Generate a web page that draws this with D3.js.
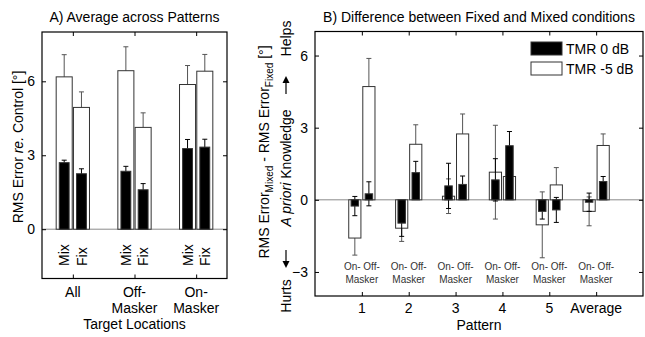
<!DOCTYPE html>
<html>
<head>
<meta charset="utf-8">
<script src="https://cdn.jsdelivr.net/npm/d3@7"></script>
<style>
body { margin: 0; background: #fff; }
text { font-family: "Liberation Sans", Arial, Helvetica, sans-serif; }
</style>
</head>
<body>
<svg id="chart" width="645" height="337"></svg>
<script>
// panel A: average across patterns
const groupsA = [["All"], ["Off-", "Masker"], ["On-", "Masker"]];
const condsA = ["Mix", "Fix"];
const white5A = [[6.18, 4.94], [6.43, 4.13], [5.87, 6.41]];
const white5AErr = [[0.9, 0.63], [0.97, 0.59], [0.77, 0.68]];
const black0A = [[2.7, 2.25], [2.35, 1.6], [3.27, 3.33]];
const black0AErr = [[0.1, 0.2], [0.2, 0.25], [0.37, 0.32]];
const ticksA = [0, 3, 6];

// panel B: difference Fixed vs Mixed
const patterns = ["1", "2", "3", "4", "5", "Average"];
const subLabels = ["On- Off-", "Masker"];
const white5B = [[-1.59, 4.71], [-1.18, 2.31], [0.15, 2.74], [1.15, 0.97], [-1.04, 0.62], [-0.48, 2.26]];
const white5BErr = [[0.71, 1.17], [0.55, 0.81], [0.72, 0.83], [1.95, 0.5], [1.37, 0.72], [0.6, 0.48]];
const black0B = [[-0.26, 0.25], [-0.97, 1.13], [0.58, 0.64], [0.83, 2.25], [-0.48, -0.42], [-0.1, 0.76]];
const black0BErr = [[0.4, 0.5], [0.55, 0.47], [0.94, 0.35], [0.88, 0.59], [0.32, 0.52], [0.38, 0.21]];
const ticksB = [-3, 0, 3, 6];
const legendLabels = ["TMR 0 dB", "TMR -5 dB"];

const svg = d3.select("#chart");
const fontFam = "Liberation Sans, Arial, Helvetica, sans-serif";

function flat(vals, errs, offs) {
  const out = [];
  vals.forEach((row, i) => row.forEach((v, j) => {
    out.push({ pos: i + 1 + offs[j], v: v, e: errs[i][j] });
  }));
  return out;
}

function drawPanel(g, x, y, whiteData, blackData, wW, bW, errColor) {
  const x0 = x.range()[0], x1 = x.range()[1];
  const y0 = y.range()[1], y1 = y.range()[0];

  g.append("line")
    .attr("x1", x0).attr("x2", x1)
    .attr("y1", y(0)).attr("y2", y(0))
    .attr("stroke", "#8a8a8a").attr("stroke-width", 1);

  const layer = (data, w, fill, ecol) => {
    const eg = g.append("g").attr("stroke", ecol).attr("stroke-width", 1);
    eg.selectAll("line.v").data(data).enter().append("line")
      .attr("x1", d => x(d.pos)).attr("x2", d => x(d.pos))
      .attr("y1", d => y(d.v - d.e)).attr("y2", d => y(d.v + d.e));
    [-1, 1].forEach(s => {
      eg.selectAll("line.c" + (s + 1)).data(data).enter().append("line")
        .attr("x1", d => x(d.pos) - 2.5).attr("x2", d => x(d.pos) + 2.5)
        .attr("y1", d => y(d.v + s * d.e)).attr("y2", d => y(d.v + s * d.e));
    });
    g.selectAll(null).data(data).enter().append("rect")
      .attr("x", d => x(d.pos) - w / 2)
      .attr("width", w)
      .attr("y", d => y(Math.max(0, d.v)))
      .attr("height", d => Math.abs(y(d.v) - y(0)))
      .attr("fill", fill)
      .attr("stroke", "#333").attr("stroke-width", 1);
  };
  layer(whiteData, wW, "#fff", errColor);
  layer(blackData, bW, "#000", "#000");

  g.append("rect")
    .attr("x", x0).attr("y", y0)
    .attr("width", x1 - x0).attr("height", y1 - y0)
    .attr("fill", "none").attr("stroke", "#000").attr("stroke-width", 1.2);
}

function inwardAxes(g, x, y, xTicks, yTicks) {
  const x0 = x.range()[0], x1 = x.range()[1];
  const y0 = y.range()[1], y1 = y.range()[0];
  g.append("g").attr("transform", `translate(${x0},0)`)
    .call(d3.axisLeft(y).tickValues(yTicks).tickSizeInner(-4).tickSizeOuter(0).tickPadding(7))
    .attr("font-size", 14).attr("font-family", fontFam)
    .call(a => a.select(".domain").remove())
    .call(a => a.selectAll("text").attr("fill", "#000"));
  g.append("g").attr("transform", `translate(${x1},0)`)
    .call(d3.axisRight(y).tickValues(yTicks).tickSizeInner(-4).tickSizeOuter(0).tickFormat(""))
    .call(a => a.select(".domain").remove());
  g.append("g").attr("transform", `translate(0,${y1})`)
    .call(d3.axisBottom(x).tickValues(xTicks).tickSizeInner(-4).tickSizeOuter(0).tickFormat(""))
    .call(a => a.select(".domain").remove());
  g.append("g").attr("transform", `translate(0,${y0})`)
    .call(d3.axisTop(x).tickValues(xTicks).tickSizeInner(-4).tickSizeOuter(0).tickFormat(""))
    .call(a => a.select(".domain").remove());
}

// ---------- panel A ----------
const xA = d3.scaleLinear().domain([0.5, 3.5]).range([42, 227]);
const yA = d3.scaleLinear().domain([-2, 8]).range([278.5, 32]);
const offA = [-0.14, 0.14];
const gA = svg.append("g");
const unitA = xA(1) - xA(0);

drawPanel(gA, xA, yA,
  flat(white5A, white5AErr, offA),
  flat(black0A, black0AErr, offA),
  0.26 * unitA, 0.16 * unitA, "#555");
inwardAxes(gA, xA, yA, [1, 2, 3], ticksA);

groupsA.forEach((lines, i) => {
  condsA.forEach((c, j) => {
    const cx = xA(i + 1 + offA[j]);
    gA.append("text")
      .attr("transform", `translate(${cx},266) rotate(-90)`)
      .attr("dy", "0.36em")
      .attr("font-size", 14)
      .text(c);
  });
  lines.forEach((t, k) => {
    gA.append("text")
      .attr("x", xA(i + 1)).attr("y", 297 + k * 16)
      .attr("text-anchor", "middle").attr("font-size", 14)
      .text(t);
  });
});

gA.append("text")
  .attr("x", xA(2)).attr("y", 329)
  .attr("text-anchor", "middle").attr("font-size", 14)
  .text("Target Locations");

gA.append("text")
  .attr("x", xA(2)).attr("y", 22)
  .attr("text-anchor", "middle").attr("font-size", 14)
  .text("A) Average across Patterns");

const ylabA = gA.append("text")
  .attr("transform", "translate(23,147) rotate(-90)")
  .attr("text-anchor", "middle").attr("font-size", 14);
ylabA.append("tspan").text("RMS Error ");
ylabA.append("tspan").attr("font-style", "italic").text("re.");
ylabA.append("tspan").text(" Control [°]");

// ---------- panel B ----------
const xB = d3.scaleLinear().domain([0, 7]).range([315, 643]);
const yB = d3.scaleLinear().domain([-4, 7]).range([296, 31.5]);
const offB = [-0.15, 0.15];
const gB = svg.append("g");
const unitB = xB(1) - xB(0);

drawPanel(gB, xB, yB,
  flat(white5B, white5BErr, offB),
  flat(black0B, black0BErr, offB),
  0.26 * unitB, 0.16 * unitB, "#555");
inwardAxes(gB, xB, yB, d3.range(1, 7), ticksB);

patterns.forEach((p, i) => {
  gB.append("text")
    .attr("x", xB(i + 1)).attr("y", 313)
    .attr("text-anchor", "middle").attr("font-size", 14)
    .text(p);
  subLabels.forEach((t, k) => {
    gB.append("text")
      .attr("x", xB(i + 1)).attr("y", 270 + k * 12.5)
      .attr("text-anchor", "middle").attr("font-size", 10)
      .attr("fill", "#333")
      .text(t);
  });
});

gB.append("text")
  .attr("x", xB(3.5)).attr("y", 330)
  .attr("text-anchor", "middle").attr("font-size", 14)
  .text("Pattern");

gB.append("text")
  .attr("x", xB(3.5)).attr("y", 22)
  .attr("text-anchor", "middle").attr("font-size", 14)
  .text("B) Difference between Fixed and Mixed conditions");

// outer y label with subscripts
const ylabB = gB.append("text")
  .attr("transform", "translate(269,152) rotate(-90)")
  .attr("text-anchor", "middle").attr("font-size", 14);
ylabB.append("tspan").text("RMS Error");
ylabB.append("tspan").attr("font-size", 10).attr("dy", 4).text("Mixed");
ylabB.append("tspan").attr("dy", -4).text(" - RMS Error");
ylabB.append("tspan").attr("font-size", 10).attr("dy", 4).text("Fixed");
ylabB.append("tspan").attr("dy", -4).text(" [°]");

// inner label: Hurts <- A priori Knowledge -> Helps
const innerX = 291;
const rotText = (yc, parts) => {
  const t = gB.append("text")
    .attr("transform", `translate(${innerX},${yc}) rotate(-90)`)
    .attr("text-anchor", "middle").attr("font-size", 14);
  parts.forEach(p => t.append("tspan").attr("font-style", p[1] ? "italic" : null).text(p[0]));
};
rotText(296, [["Hurts"]]);
rotText(168, [["A priori", true], [" Knowledge"]]);
rotText(38.5, [["Helps"]]);

const arrow = (yTail, yHead) => {
  const s = yHead > yTail ? 1 : -1;
  const ax = innerX - 5;
  gB.append("line")
    .attr("x1", ax).attr("x2", ax)
    .attr("y1", yTail).attr("y2", yHead - s * 5)
    .attr("stroke", "#000").attr("stroke-width", 1.2);
  gB.append("path")
    .attr("d", `M${ax - 3.5},${yHead - s * 7}L${ax + 3.5},${yHead - s * 7}L${ax},${yHead}Z`)
    .attr("fill", "#000");
};
arrow(250, 268);
arrow(94, 76);

// legend
const legend = gB.append("g");
legendLabels.forEach((l, i) => {
  legend.append("rect")
    .attr("x", 531).attr("y", 42 + i * 20)
    .attr("width", 31).attr("height", 13)
    .attr("fill", i === 0 ? "#000" : "#fff")
    .attr("stroke", "#333").attr("stroke-width", 1);
  legend.append("text")
    .attr("x", 566).attr("y", 54 + i * 20)
    .attr("font-size", 14)
    .text(l);
});
</script>
</body>
</html>
